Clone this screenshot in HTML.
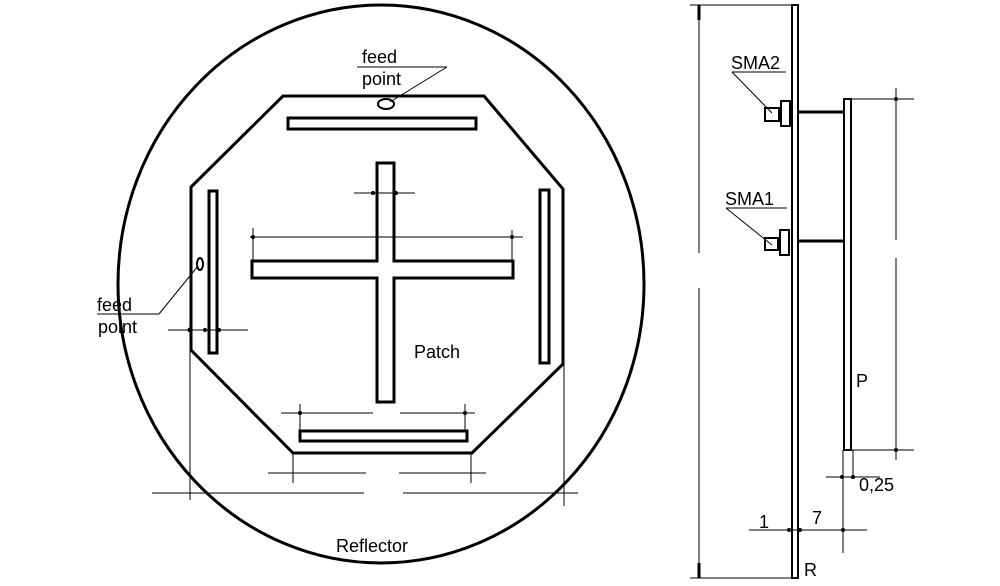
<!DOCTYPE html>
<html><head><style>body{margin:0;background:#fff}svg{display:block}text{font-family:"Liberation Sans",sans-serif;font-size:18px;fill:#000}</style></head>
<body>
<svg width="1000" height="586" viewBox="0 0 1000 586" xmlns="http://www.w3.org/2000/svg">
<rect width="1000" height="586" fill="#fff"/>
<ellipse cx="381" cy="284" rx="263" ry="279" fill="none" stroke="#000" stroke-width="3"/>
<polygon points="283,96 484,96 563,189 563,364 472,453 293,453 191,350 191,187" fill="none" stroke="#000" stroke-width="3"/>
<g fill="none" stroke="#000" stroke-width="3">
<rect x="288" y="118" width="188" height="11"/>
<rect x="209" y="191" width="8" height="162"/>
<rect x="540" y="190" width="9" height="173"/>
<rect x="300" y="431" width="167" height="10"/>
<path d="M377,261 V163 H394 V261 H513 V278 H394 V402 H377 V278 H252 V261 Z"/>
</g>
<g stroke="#000" stroke-width="1" fill="none">
<line x1="250" y1="237" x2="523" y2="237"/><line x1="253" y1="228" x2="253" y2="261"/><line x1="512" y1="230" x2="512" y2="261"/>
<line x1="354" y1="193" x2="415" y2="193"/>
<line x1="281" y1="413" x2="373" y2="413"/><line x1="400" y1="413" x2="475" y2="413"/><line x1="300" y1="404" x2="300" y2="431"/><line x1="465" y1="404" x2="465" y2="431"/>
<line x1="268" y1="473" x2="366" y2="473"/><line x1="399" y1="473" x2="486" y2="473"/><line x1="293" y1="453" x2="293" y2="483"/><line x1="471" y1="453" x2="471" y2="483"/>
<line x1="152" y1="493" x2="364" y2="493"/><line x1="403" y1="493" x2="578" y2="493"/><line x1="190" y1="350" x2="190" y2="500"/><line x1="564" y1="364" x2="564" y2="506"/>
<line x1="168" y1="330" x2="248" y2="330"/>
<line x1="357" y1="67" x2="447" y2="67"/><line x1="447" y1="67" x2="390" y2="102"/>
<line x1="97" y1="314" x2="159" y2="314"/><line x1="159" y1="314" x2="198" y2="266"/>
<ellipse cx="386" cy="104" rx="8" ry="5" stroke-width="2"/>
<ellipse cx="200" cy="264" rx="3" ry="6" stroke-width="2"/>
</g>
<g fill="#000">
<circle cx="373" cy="193" r="2"/><circle cx="396" cy="193" r="2"/><circle cx="253" cy="237" r="2"/><circle cx="512" cy="237" r="2"/>
<circle cx="300" cy="413" r="2"/><circle cx="465" cy="413" r="2"/>
<circle cx="190" cy="330" r="2.5"/><circle cx="205" cy="330" r="2"/><circle cx="219" cy="330" r="2"/>
</g>
<text x="362" y="63">feed</text><text x="362" y="85">point</text>
<text x="97" y="311">feed</text><text x="98" y="333">point</text>
<text x="414" y="358">Patch</text>
<text x="336" y="552">Reflector</text>
<g stroke="#000" fill="none">
<line x1="699" y1="5" x2="699" y2="253" stroke-width="1"/><line x1="699" y1="288" x2="699" y2="578" stroke-width="1"/>
<line x1="699" y1="5" x2="699" y2="20" stroke-width="3"/><line x1="699" y1="563" x2="699" y2="578" stroke-width="3"/>
<line x1="690" y1="5" x2="792" y2="5" stroke-width="1"/><line x1="690" y1="578" x2="792" y2="578" stroke-width="1"/>
<rect x="792" y="5" width="6" height="573" stroke-width="2"/>
<rect x="844" y="99" width="7" height="351" stroke-width="2"/>
<line x1="798" y1="112" x2="844" y2="112" stroke-width="3"/><line x1="798" y1="241" x2="844" y2="241" stroke-width="3"/>
<rect x="781" y="101" width="9" height="25" stroke-width="2"/><rect x="765" y="108" width="14" height="13" stroke-width="2"/>
<rect x="780" y="230" width="9" height="25" stroke-width="2"/><rect x="765" y="238" width="13" height="12" stroke-width="2"/>
<g stroke-width="1">
<line x1="732" y1="72" x2="786" y2="72"/><line x1="732" y1="72" x2="772" y2="113"/>
<line x1="726" y1="208" x2="787" y2="208"/><line x1="726" y1="208" x2="772" y2="245"/>
<line x1="851" y1="99" x2="914" y2="99"/><line x1="851" y1="450" x2="914" y2="450"/>
<line x1="896" y1="88" x2="896" y2="240"/><line x1="896" y1="258" x2="896" y2="460"/>
<line x1="826" y1="477" x2="880" y2="477"/><line x1="853" y1="450" x2="853" y2="477"/>
<line x1="749" y1="530" x2="867" y2="530"/><line x1="843" y1="450" x2="843" y2="553"/>
</g>
</g>
<g fill="#000">
<circle cx="896" cy="99" r="2"/><circle cx="896" cy="450" r="2"/>
<circle cx="842" cy="477" r="2"/><circle cx="853" cy="477" r="2"/>
<circle cx="789" cy="530" r="2"/><circle cx="800" cy="530" r="2"/><circle cx="843" cy="530" r="2"/>
</g>
<text x="731" y="69">SMA2</text><text x="725" y="205">SMA1</text>
<text x="856" y="387">P</text><text x="859" y="491">0,25</text>
<text x="759" y="528">1</text><text x="812" y="524">7</text><text x="804" y="576">R</text>
</svg>
</body></html>
